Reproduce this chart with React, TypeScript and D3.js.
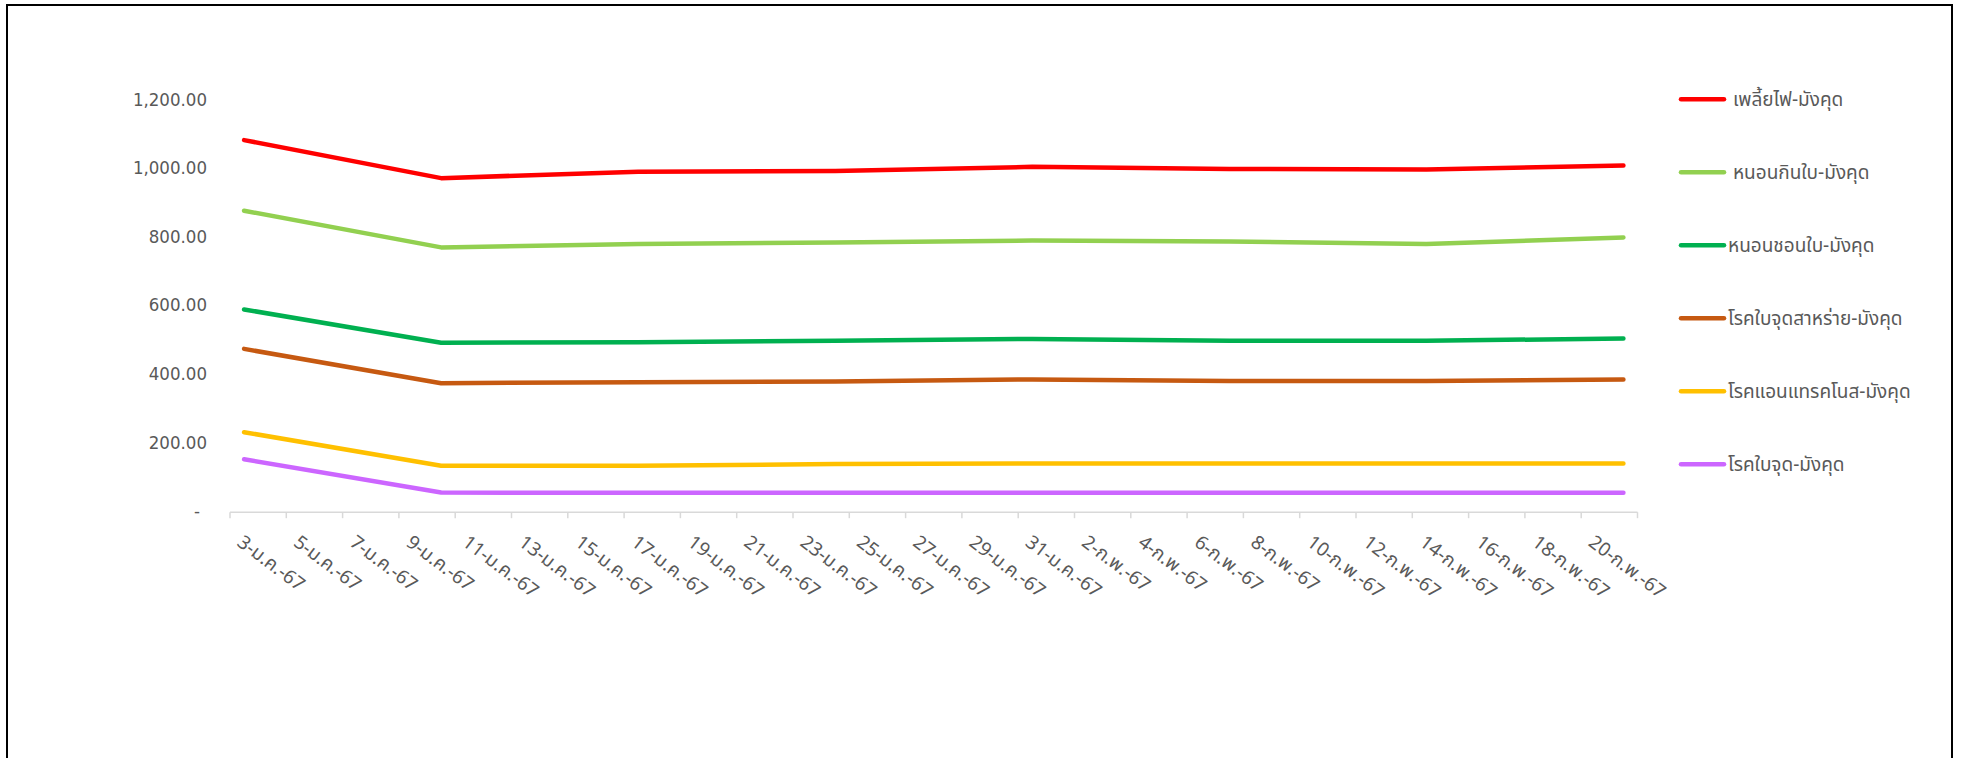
import React from "react";
import * as d3 from "d3";

// weekly survey dates (Jan 3 - Feb 21, 2567 BE)
const dates = [
  "2024-01-03",
  "2024-01-10",
  "2024-01-17",
  "2024-01-24",
  "2024-01-31",
  "2024-02-07",
  "2024-02-14",
  "2024-02-21",
];

const seriesNames = [
  " เพลี้ยไฟ-มังคุด",
  " หนอนกินใบ-มังคุด",
  "หนอนชอนใบ-มังคุด",
  "โรคใบจุดสาหร่าย-มังคุด",
  "โรคแอนแทรคโนส-มังคุด",
  "โรคใบจุด-มังคุด",
];
const colors = ["#FF0000", "#92D050", "#00B050", "#C65911", "#FFC000", "#CC66FF"];

const thrips = [1081, 970, 989, 991, 1003, 997, 995, 1007];
const leafEater = [875, 768, 778, 782, 788, 785, 778, 797];
const leafMiner = [587, 490, 491, 496, 501, 496, 496, 502];
const algalSpot = [472, 372, 375, 377, 383, 378, 378, 383];
const anthracnose = [229, 131, 131, 136, 138, 138, 138, 138];
const leafSpot = [150, 53, 52, 52, 52, 52, 52, 52];
const allSeries = [thrips, leafEater, leafMiner, algalSpot, anthracnose, leafSpot];

const xTickLabels = [
  "3-ม.ค.-67", "5-ม.ค.-67", "7-ม.ค.-67", "9-ม.ค.-67", "11-ม.ค.-67",
  "13-ม.ค.-67", "15-ม.ค.-67", "17-ม.ค.-67", "19-ม.ค.-67", "21-ม.ค.-67",
  "23-ม.ค.-67", "25-ม.ค.-67", "27-ม.ค.-67", "29-ม.ค.-67", "31-ม.ค.-67",
  "2-ก.พ.-67", "4-ก.พ.-67", "6-ก.พ.-67", "8-ก.พ.-67", "10-ก.พ.-67",
  "12-ก.พ.-67", "14-ก.พ.-67", "16-ก.พ.-67", "18-ก.พ.-67", "20-ก.พ.-67",
];
const yTicks = [0, 200, 400, 600, 800, 1000, 1200];

const W = 1962;
const H = 758;
const plot = { left: 230, right: 1637.5, top: 99.3, bottom: 510.7 };
const labelFont = "'Liberation Sans Narrow', 'DejaVu Sans Condensed', sans-serif";
const thaiFont = "Tahoma, 'Noto Sans Thai', 'Leelawadee UI', 'DejaVu Sans', sans-serif";
const textColor = "#595959";

export default function App() {
  const start = new Date(dates[0] + "T00:00:00Z");
  const end = d3.utcDay.offset(start, 50);
  const x = d3.scaleUtc().domain([start, end]).range([plot.left, plot.right]);
  const y = d3.scaleLinear().domain([0, 1200]).range([plot.bottom, plot.top]);

  const dayMid = (d: Date) => x(d3.utcHour.offset(d, 12));
  const tickDates = d3.utcDay.range(start, d3.utcDay.offset(end, 1), 2);

  const line = d3
    .line<number>()
    .x((_, i) => dayMid(new Date(dates[i] + "T00:00:00Z")))
    .y((v) => y(v));

  const fmt = d3.format(",.2f");

  return (
    <svg
      width={W}
      height={H}
      style={{ position: "absolute", left: 0, top: 0, background: "#fff" }}
    >
      <rect x={0} y={0} width={W} height={H} fill="#fff" />
      <rect x={7} y={5} width={1945} height={H + 20} fill="none" stroke="#000" strokeWidth={2} />

      {/* y axis labels */}
      {yTicks.map((t) => (
        <text
          key={t}
          x={t === 0 ? 200 : 207}
          y={y(t)}
          dy="0.35em"
          textAnchor="end"
          fontFamily={labelFont}
          fontSize={18.5}
          fill={textColor}
        >
          {t === 0 ? "-" : fmt(t)}
        </text>
      ))}

      {/* x axis */}
      <line
        x1={plot.left}
        x2={plot.right}
        y1={plot.bottom + 1.5}
        y2={plot.bottom + 1.5}
        stroke="#D9D9D9"
        strokeWidth={1.5}
      />
      {tickDates.map((d, i) => (
        <line
          key={i}
          x1={x(d)}
          x2={x(d)}
          y1={plot.bottom + 1.5}
          y2={plot.bottom + 7.5}
          stroke="#D9D9D9"
          strokeWidth={1.5}
        />
      ))}
      {xTickLabels.map((lbl, i) => {
        const d = d3.utcDay.offset(start, i * 2);
        const px = dayMid(d) - 8;
        const py = plot.bottom + 34;
        return (
          <text
            key={lbl}
            x={px}
            y={py}
            transform={`rotate(37 ${px} ${py})`}
            fontFamily={thaiFont}
            fontSize={19}
            fill={textColor}
          >
            {lbl}
          </text>
        );
      })}

      {/* series lines */}
      {allSeries.map((s, i) => (
        <path
          key={i}
          d={line(s) ?? ""}
          fill="none"
          stroke={colors[i]}
          strokeWidth={4.5}
          strokeLinejoin="round"
          strokeLinecap="round"
        />
      ))}

      {/* legend */}
      {seriesNames.map((name, i) => {
        const ly = 99.3 + i * 73;
        return (
          <g key={name}>
            <line
              x1={1681}
              x2={1724}
              y1={ly}
              y2={ly}
              stroke={colors[i]}
              strokeWidth={4.5}
              strokeLinecap="round"
            />
            <text
              x={1728}
              y={ly}
              dy="0.35em"
              fontFamily={thaiFont}
              fontSize={19}
              fill={textColor}
              style={{ whiteSpace: "pre" }}
            >
              {name}
            </text>
          </g>
        );
      })}
    </svg>
  );
}
